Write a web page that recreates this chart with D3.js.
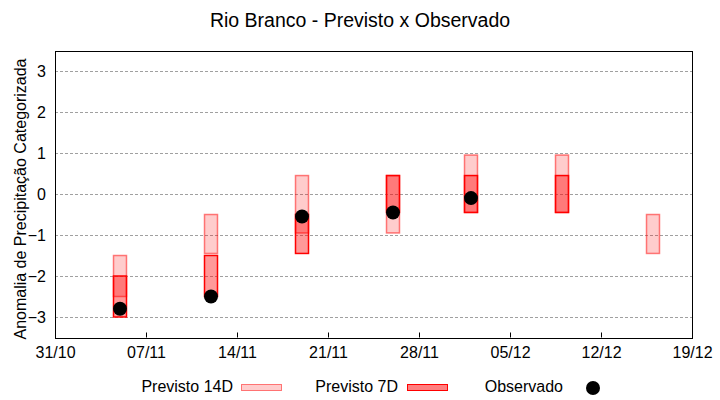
<!DOCTYPE html>
<html>
<head>
<meta charset="utf-8">
<script src="https://cdn.jsdelivr.net/npm/d3@7"></script>
<style>
  body, html { margin:0; padding:0; background:#fff; }
  text { font-family: "Liberation Sans", Arial, sans-serif; fill:#000; }
</style>
</head>
<body>
<svg id="chart" width="720" height="400"></svg>
<script>
// data
var dates    = ["05/11", "12/11", "19/11", "26/11", "02/12", "09/12", "16/12"];
var p14Low   = [-2.5, -1.45, -0.95, -0.95, -0.45, -0.45, -1.45];
var p14High  = [-1.5, -0.5,  0.45,  0.45,  0.95,  0.95, -0.5];
var p7Low    = [-3,   -2.5, -1.45, -0.45, -0.45, -0.45, null];
var p7High   = [-2,   -1.5, -0.5,   0.45,  0.45,  0.45, null];
var observed = [-2.8, -2.5, -0.55, -0.45, -0.1, null, null];
var xTicks   = ["31/10", "07/11", "14/11", "21/11", "28/11", "05/12", "12/12", "19/12"];
var yTicks   = [-3, -2, -1, 0, 1, 2, 3];

var parse = function(s){ return d3.timeParse("%d/%m/%Y")(s + "/2021"); };
var fmt = d3.timeFormat("%d/%m");

var svg = d3.select("#chart");
var plotLeft = 55, plotRight = 692, plotTop = 50.5, plotBottom = 337.5;

var x = d3.scaleTime()
    .domain([parse(xTicks[0]), parse(xTicks[xTicks.length - 1])])
    .range([plotLeft, plotRight]);
var y = d3.scaleLinear().domain([-3.5, 3.5]).range([plotBottom, plotTop]);

// grid
svg.append("g").selectAll("line")
   .data(yTicks).enter().append("line")
   .attr("x1", plotLeft).attr("x2", plotRight)
   .attr("y1", function(d){ return Math.round(y(d)) + 0.5; })
   .attr("y2", function(d){ return Math.round(y(d)) + 0.5; })
   .style("stroke", "#a0a0a0").style("stroke-dasharray", "3,2");

// axes
var yAxis = svg.append("g").attr("transform", "translate(" + plotLeft + ",0)")
   .call(d3.axisLeft(y).tickValues(yTicks).tickSize(0).tickPadding(9).tickFormat(d3.format("d")));
yAxis.select(".domain").remove();
yAxis.selectAll("text").style("font-size", "16px").style("font-family", "Liberation Sans");

var xAxis = svg.append("g").attr("transform", "translate(0," + plotBottom + ")")
   .call(d3.axisBottom(x).tickValues(xTicks.map(parse)).tickSize(-5).tickPadding(9).tickFormat(fmt));
xAxis.select(".domain").remove();
xAxis.selectAll("line").style("stroke", "#000");
xAxis.selectAll("text").style("font-size", "16px").style("font-family", "Liberation Sans");

// frame
svg.append("rect")
   .attr("x", plotLeft + 0.5).attr("y", Math.round(plotTop) + 0.5)
   .attr("width", plotRight - plotLeft).attr("height", Math.round(plotBottom) - Math.round(plotTop))
   .style("fill", "none").style("stroke", "#000");

var half = function(s, sign){ return x(d3.timeHour.offset(parse(s), sign * 12)); };

// previsto 14D
svg.append("g").selectAll("rect")
   .data(dates).enter().append("rect")
   .attr("x", function(d){ return half(d, -1); })
   .attr("width", function(d){ return half(d, 1) - half(d, -1); })
   .attr("y", function(d, i){ return y(p14High[i]); })
   .attr("height", function(d, i){ return y(p14Low[i]) - y(p14High[i]); })
   .style("fill", "rgba(255,0,0,0.2)").style("stroke", "rgba(255,0,0,0.5)").style("stroke-width", 1.5);

// previsto 7D
var d7 = dates.filter(function(d, i){ return p7Low[i] !== null; });
svg.append("g").selectAll("rect")
   .data(d7).enter().append("rect")
   .attr("x", function(d){ return half(d, -1); })
   .attr("width", function(d){ return half(d, 1) - half(d, -1); })
   .attr("y", function(d, i){ return y(p7High[i]); })
   .attr("height", function(d, i){ return y(p7Low[i]) - y(p7High[i]); })
   .style("fill", "rgba(255,0,0,0.4)").style("stroke", "#ff0000").style("stroke-width", 1.5);

// observado
svg.append("g").selectAll("circle")
   .data(dates.filter(function(d, i){ return observed[i] !== null; }))
   .enter().append("circle")
   .attr("cx", function(d){ return x(parse(d)); })
   .attr("cy", function(d, i){ return y(observed[i]); })
   .attr("r", 7).style("fill", "#000");

// title + y label
svg.append("text").attr("x", 360).attr("y", 27).attr("text-anchor", "middle")
   .style("font-size", "19.5px").text("Rio Branco - Previsto x Observado");
svg.append("text").attr("transform", "translate(26,199) rotate(-90)")
   .attr("text-anchor", "middle").style("font-size", "16px")
   .text("Anomalia de Precipitação Categorizada");

// legend
var key = svg.append("g");
key.append("text").attr("x", 233).attr("y", 392).attr("text-anchor", "end").style("font-size", "16px").text("Previsto 14D");
key.append("rect").attr("x", 241.5).attr("y", 384.5).attr("width", 40).attr("height", 6)
   .style("fill", "rgba(255,0,0,0.2)").style("stroke", "rgba(255,0,0,0.5)");
key.append("text").attr("x", 398).attr("y", 392).attr("text-anchor", "end").style("font-size", "16px").text("Previsto 7D");
key.append("rect").attr("x", 407.5).attr("y", 384.5).attr("width", 40).attr("height", 6)
   .style("fill", "rgba(255,0,0,0.5)").style("stroke", "#ff0000");
key.append("text").attr("x", 563).attr("y", 392).attr("text-anchor", "end").style("font-size", "16px").text("Observado");
key.append("circle").attr("cx", 593).attr("cy", 388).attr("r", 7).style("fill", "#000");
</script>
</body>
</html>
